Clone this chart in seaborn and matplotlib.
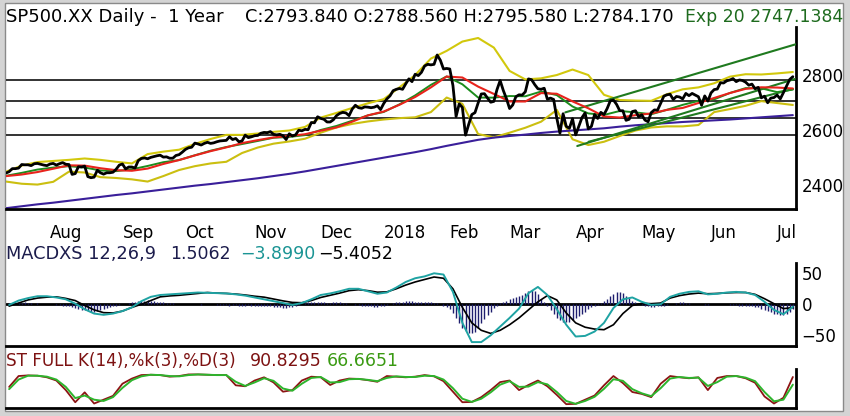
import numpy as np
import matplotlib
matplotlib.use("Agg")
import matplotlib.pyplot as plt
import seaborn as sns
from matplotlib.patches import Rectangle

# ---------------- data (trading-day index: 1 = 12 Jul 2017 ... 251 = 10 Jul 2018) -------------
close = [
    2443, 2448, 2459, 2459, 2461, 2474, 2473, 2473, 2470, 2477, 2478, 2475, 2472, 2470,
    2476, 2478, 2472, 2477, 2481, 2475, 2474, 2438, 2441, 2466, 2465, 2468, 2430, 2426, 2428, 2453, 2444, 2439, 2444, 2444, 2446, 2457, 2472,
    2476, 2458, 2465, 2465, 2461, 2488, 2496, 2498, 2495, 2500, 2503, 2506, 2508, 2501, 2502, 2497, 2497, 2507, 2510, 2519,
    2529, 2535, 2537, 2552, 2549, 2545, 2551, 2555, 2551, 2553, 2557, 2560, 2561, 2562, 2575, 2565, 2569, 2557, 2560, 2581, 2572, 2575,
    2579, 2580, 2588, 2591, 2590, 2594, 2584, 2582, 2584, 2579, 2565, 2586, 2578, 2582, 2599, 2597, 2602, 2601, 2627, 2626, 2648,
    2642, 2639, 2629, 2629, 2637, 2652, 2660, 2664, 2662, 2652, 2676, 2690, 2681, 2679, 2684, 2683, 2681, 2683, 2688, 2674,
    2696, 2713, 2724, 2743, 2748, 2751, 2748, 2768, 2786, 2776, 2803, 2798, 2810, 2833, 2839, 2837, 2839, 2873, 2854, 2822, 2824,
    2822, 2762, 2649, 2695, 2682, 2581, 2620, 2656, 2663, 2698, 2731, 2732, 2716, 2701, 2704, 2747, 2780, 2744, 2714,
    2678, 2691, 2721, 2728, 2727, 2739, 2786, 2783, 2765, 2750, 2748, 2752, 2712, 2716, 2711, 2643, 2588, 2659, 2613, 2606, 2641,
    2582, 2614, 2645, 2662, 2604, 2613, 2656, 2642, 2664, 2656, 2678, 2706, 2709, 2693, 2670, 2670, 2635, 2639, 2667, 2670, 2648,
    2655, 2636, 2630, 2663, 2673, 2672, 2697, 2723, 2728, 2730, 2711, 2722, 2720, 2713, 2733, 2725, 2733, 2727, 2721, 2690, 2724, 2705,
    2735, 2747, 2749, 2772, 2771, 2779, 2782, 2787, 2776, 2782, 2780, 2774, 2763, 2767, 2750, 2755, 2717, 2723, 2699, 2716, 2718,
    2727, 2713, 2736, 2760, 2784, 2794,
]

# MACD histogram, one bar per trading day
hist = [
    1, 2, 2, 3, 3, 2, 3, 2, 2, 1, 2, 1, 1, 0, 1, 0, -1, -1, -2, -2,
    -3, -5, -6, -8, -9, -10, -11, -12, -12, -11, -10, -8, -6, -4, -3,
    -2, -1, 0, 1, 2, 3,
    4, 5, 6, 6, 7, 6, 5, 4, 3,
    3, 2, 2, 2, 1, 1, 1, 0, 1, 1, 0, 0, -1, 0, 1, 0, 0, -1, -1, -1,
    -1, -2, -1, -1, -2, -2, -2, -1, -2, -2, -3, -2, -2, -3, -3, -4, -4,
    -5, -6, -6, -5, -4, -2,
    -1, 1, 2, 3, 3, 4, 4, 3, 3, 2, 2, 3, 3, 3, 2, 2, 1, 0, -1, -1, -2, -2, -3,
    -3, -4, -4, -3, -2, -1,
    1, 2, 3, 4, 4, 5, 5, 5, 4, 4, 4, 4, 3, 3, 2, 2, 1,
    -2, -5, -8, -14, -22, -30, -38, -43, -46, -46, -45, -38, -30, -24, -18, -12, -6, -2,
    2, 4, 6, 8, 10, 11, 13, 15, 18, 21, 23, 22, 16, 9,
    3, -3, -10, -16, -22, -26, -28, -29, -28, -26, -22, -19, -15, -12, -8, -5, -3, -1,
    2, 5, 9, 13, 17, 20, 20, 18, 14, 10, 6, 3, 1,
    -1, -2, -3, -4, -4, -3, -3, -2, -1, 0,
    1, 2, 3, 3, 2, 2, 1, 1, 0, 0, -1, -1, 0, 0, 1, 1, 0, 0, -1, -1, -1, -2, -2, -2, -3, -3,
    -4, -5, -7, -9, -11, -13, -15, -16, -17, -17, -15, -12, -8,
]

# weekly samples (every 5th trading day starting at day 1)
ema20 = [2433, 2443.7, 2455.7, 2463, 2468, 2463.1, 2452.5, 2449.9, 2456.6, 2468.8, 2482.5, 2490.4, 2507.7,
         2524.4, 2537.8, 2548.6, 2559.9, 2571.5, 2574.5, 2581.2, 2599.9, 2614.5, 2633.5, 2653.1, 2665.4, 2693.1,
         2725.8, 2764.2, 2795, 2766.3, 2718.1, 2717.6, 2723.5, 2722.6, 2739.9, 2726.9, 2685.4, 2660.2, 2654.7,
         2669.1, 2664, 2657.1, 2673.4, 2691.4, 2705.7, 2711.4, 2734.6, 2752.4, 2751.6, 2737.8, 2747.1]
sma20 = [2431.8, 2437.6, 2446.6, 2458.7, 2471.1, 2470.0, 2460.5, 2453.4, 2451.3, 2459.3, 2476.1, 2490.3, 2507.1,
         2522.7, 2536.5, 2552.1, 2562.9, 2572.7, 2577.8, 2584.4, 2597.3, 2609.2, 2630.1, 2653.1, 2667.0, 2691.6,
         2720.0, 2755.0, 2794.5, 2791.0, 2757.9, 2731.2, 2703.8, 2703.6, 2734.3, 2731.8, 2704.0, 2679.0, 2649.0,
         2645.1, 2653.8, 2660.0, 2673.1, 2680.1, 2698.0, 2716.5, 2734.5, 2749.6, 2755.3, 2754.4, 2751.0]
bb_upper = [2448, 2470, 2483, 2487, 2491, 2496, 2491, 2484, 2478, 2512, 2521, 2528, 2549, 2567, 2582, 2582, 2587,
            2593, 2598, 2611, 2645, 2662, 2680, 2697, 2712, 2755, 2800, 2860, 2888, 2922, 2935, 2900, 2815, 2784,
            2788, 2800, 2820, 2800, 2728, 2709, 2707, 2706, 2730, 2748, 2755, 2770, 2794, 2803, 2802, 2806, 2811]
bb_lower = [2412, 2404, 2401, 2411, 2448, 2445, 2428, 2425, 2420, 2412, 2432, 2454, 2468, 2478, 2484, 2516, 2536,
            2550, 2558, 2568, 2590, 2609, 2622, 2631, 2638, 2643, 2646, 2665, 2718, 2695, 2585, 2573, 2590, 2608,
            2630, 2673, 2566, 2545, 2557, 2578, 2598, 2609, 2613, 2613, 2618, 2665, 2676, 2688, 2705, 2698, 2691]
ma200 = [2315, 2322, 2329, 2335, 2342, 2349, 2356, 2363, 2369, 2376, 2383, 2390, 2397, 2403, 2410, 2417, 2424,
         2432, 2440, 2449, 2459, 2469, 2479, 2489, 2499, 2509, 2519, 2530, 2542, 2553, 2564, 2572, 2578, 2583,
         2589, 2594, 2598, 2602, 2606, 2612, 2617, 2621, 2625, 2629, 2632, 2635, 2638, 2642, 2646, 2650, 2654]

# oscillator samples (every 3rd trading day starting at day 2)
macd = [-1, 6, 10, 13, 13, 11, 8, 1, -8, -15,
        -17, -15, -11, -5, 5, 12, 15, 16, 17, 18,
        19, 18.5, 18, 17.5, 16, 14, 11, 8, 5, 2,
        -1, 2, 8, 15, 17.5, 21, 25, 25, 21, 17,
        19, 27, 36, 42, 45, 50, 48, 20, -30, -61,
        -61, -50, -36, -22, -7, 18, 28, 15, -8, -33,
        -52, -51, -44, -30, -6, 8, 11, 4, -1, 0,
        12, 17, 20, 21, 16, 17, 19, 20, 19, 15,
        4, -9, -16, -4]
signal = [-3, 2, 7, 10, 11.5, 12, 9.5, 6, -2, -9,
          -13.5, -14, -11, -5, 0, 6, 12, 13.5, 14.5, 16,
          17.5, 19, 18, 17.5, 16.5, 15, 13, 11.5, 8.5, 5.5,
          3, 2.5, 6, 11, 14.5, 18, 22, 23.5, 22, 19.5,
          20, 25, 31, 36, 40, 44, 42, 25, -5, -30,
          -42, -47, -42, -33, -22, -9, 4, 14, 7, -14,
          -30, -37, -40, -41, -33, -15, -2, 1.5, 1, 2,
          10, 14, 16.5, 18, 17, 17.5, 18.5, 19, 19, 16,
          9, 1, -7, -5.4]
stoch_k = [60, 94, 96, 95, 90, 80, 50, 12, 43, 8,
           20, 32, 70, 86, 97, 98, 97, 92, 94, 99,
           99, 98, 97, 97, 65, 62, 80, 90, 74, 45,
           50, 80, 92, 90, 66, 80, 86, 85, 81, 76,
           94, 92, 90, 92, 97, 93, 78, 45, 12, 13,
           28, 50, 75, 80, 50, 66, 80, 62, 35, 6,
           7, 20, 33, 65, 94, 72, 44, 38, 28, 70,
           94, 90, 87, 90, 50, 88, 94, 94, 87, 73,
           30, 8, 26, 91]
stoch_d = [53, 83, 95, 95, 92, 83, 60, 25, 33, 20,
           16, 28, 57, 81, 93, 98, 97, 94, 93, 97,
           99, 98, 97, 97, 76, 63, 74, 87, 79, 55,
           48, 70, 88, 91, 74, 75, 84, 85, 82, 78,
           88, 93, 91, 91, 95, 94, 83, 56, 23, 13,
           23, 43, 67, 78, 60, 61, 75, 68, 44, 16,
           7, 16, 29, 54, 84, 79, 53, 40, 31, 56,
           86, 91, 88, 89, 63, 75, 92, 94, 89, 78,
           44, 15, 20, 67]

# horizontal support / resistance levels and trend lines (day, price) -> (day, price)
h_levels = [2783, 2705, 2643, 2580]
trend_start_day = [178.7, 182.5, 186.1]
trend_start_val = [2664, 2541.5, 2557]
trend_end_day = [251.9, 251.6, 251.0]
trend_end_val = [2912, 2785.5, 2749]

month_labels = ["Aug", "Sep", "Oct", "Nov", "Dec", "2018", "Feb", "Mar", "Apr", "May", "Jun", "Jul"]
month_start_day = [15, 38, 58, 80, 101, 121, 142, 161, 182, 203, 225, 246]

# ---------------- figure ----------------
sns.set_style("white")
plt.rcParams["font.family"] = ["DejaVu Sans"]

W, H = 850, 416
fig = plt.figure(figsize=(W / 100, H / 100), dpi=100)
fig.patch.set_facecolor("#d4d4d4")


def fx(x):
    return x / W


def fy(y):
    return 1 - y / H


fig.patches.append(Rectangle((fx(5), fy(411)), (843 - 5) / W, (411 - 3) / H, transform=fig.transFigure,
                             facecolor="white", edgecolor="#8a8a8a", lw=1.0, zorder=-5))

day_close = np.arange(1, len(close) + 1)
day_hist = np.arange(1, len(hist) + 1)
day_week = np.arange(1, 1 + 5 * len(ema20), 5)
day_osc = np.arange(2, 2 + 3 * len(macd), 3)

XL = (1, 252)
L, R = 6, 796


def make_ax(top, bottom):
    ax = fig.add_axes([fx(L), fy(bottom), (R - L) / W, (bottom - top) / H])
    ax.set_facecolor("none")
    ax.patch.set_alpha(0)
    for s in ("top", "left"):
        ax.spines[s].set_visible(False)
    for s in ("right", "bottom"):
        ax.spines[s].set_color("black")
        ax.spines[s].set_linewidth(2)
    ax.set_xlim(*XL)
    return ax


# price panel
axp = make_ax(27, 209)
for lv in h_levels:
    axp.axhline(lv, color="#111111", lw=1.2, zorder=1)
sns.lineplot(x=day_week, y=bb_upper, ax=axp, color="#d2c80c", lw=1.5, estimator=None, sort=False, zorder=2)
sns.lineplot(x=day_week, y=bb_lower, ax=axp, color="#cbbf10", lw=1.5, estimator=None, sort=False, zorder=2)
sns.lineplot(x=day_week, y=ma200, ax=axp, color="#3a1f9a", lw=1.5, estimator=None, sort=False, zorder=2)
for t0, v0, t1, v1 in zip(trend_start_day, trend_start_val, trend_end_day, trend_end_val):
    axp.plot([t0, t1], [v0, v1], color="#1f7a1f", lw=1.5, zorder=3)
sns.lineplot(x=day_week, y=ema20, ax=axp, color="#1c8c1c", lw=1.4, estimator=None, sort=False, zorder=4)
sns.lineplot(x=day_week, y=sma20, ax=axp, color="#e8231c", lw=1.5, estimator=None, sort=False, zorder=4)
sns.lineplot(x=day_close, y=close, ax=axp, color="black", lw=2.0, estimator=None, sort=False, zorder=5)
axp.set_xlim(*XL)
axp.set_ylim(2312, 2975)
axp.yaxis.tick_right()
axp.set_yticks([2400, 2600, 2800])
axp.set_xticks(month_start_day)
axp.set_xticklabels(month_labels)
for lab in axp.get_xticklabels():
    lab.set_horizontalalignment("left")
axp.tick_params(axis="y", length=0, pad=4, labelsize=12, labelcolor="black")
axp.tick_params(axis="x", direction="out", length=7, width=2, pad=4, labelsize=12, colors="black")
axp.set_xlabel("")
axp.set_ylabel("")

# MACD panel
axm = make_ax(263, 346)
axm.axhline(0, color="black", lw=2, zorder=1)
axm.vlines(day_hist, 0, hist, color="#1e1e6e", lw=1.0, zorder=2)
sns.lineplot(x=day_osc, y=signal, ax=axm, color="black", lw=1.2, estimator=None, sort=False, zorder=3)
sns.lineplot(x=day_osc, y=macd, ax=axm, color="#1fa3a3", lw=1.4, estimator=None, sort=False, zorder=4)
axm.set_xlim(*XL)
axm.set_ylim(-67.3, 66.6)
axm.yaxis.tick_right()
axm.set_yticks([50, 0, -50])
axm.tick_params(axis="y", length=0, pad=4, labelsize=12, labelcolor="black")
axm.set_xticks([])
axm.set_xlabel("")
axm.set_ylabel("")

# Stochastic panel
axs = make_ax(369, 408)
sns.lineplot(x=day_osc, y=stoch_k, ax=axs, color="#8c1414", lw=1.3, estimator=None, sort=False, zorder=3)
sns.lineplot(x=day_osc, y=stoch_d, ax=axs, color="#2db52d", lw=1.4, estimator=None, sort=False, zorder=4)
axs.set_xlim(*XL)
axs.set_ylim(-6, 116)
axs.set_yticks([])
axs.set_xticks([])
axs.set_xlabel("")
axs.set_ylabel("")

# ---------------- header texts ----------------
def label(x, y, s, color, size=12.5):
    fig.text(fx(x), fy(y), s, color=color, fontsize=size, ha="left", va="center", zorder=3)


label(6, 17, "SP500.XX Daily -  1 Year", "black", 13)
label(245, 17, "C:2793.840 O:2788.560 H:2795.580 L:2784.170", "black", 12.8)
label(685, 17, "Exp 20 2747.1384", "#1e6b1e", 12.4)

label(6, 254, "MACDXS 12,26,9", "#1c1c4c", 12.8)
label(170, 254, "1.5062", "#1c1c4c", 12.5)
label(240, 254, "\u22123.8990", "#1a9494", 12.5)
label(318, 254, "\u22125.4052", "black", 12.5)

label(6, 361, "ST FULL K(14),%k(3),%D(3)", "#7d1212", 12.1)
label(250, 361, "90.8295", "#7d1212", 12.5)
label(327, 361, "66.6651", "#3a9a12", 12.5)

fig.savefig("out.png", dpi=100)
